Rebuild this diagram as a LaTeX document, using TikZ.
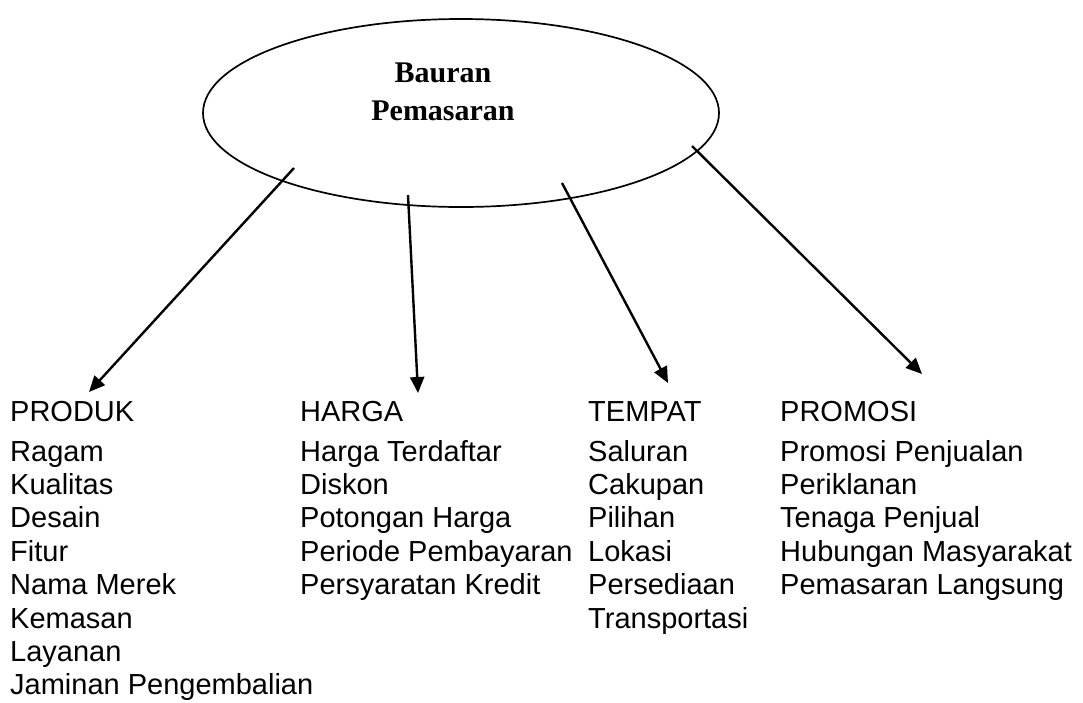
\documentclass[tikz,border=0pt]{standalone}
\usepackage{fontspec}
\setmainfont{Liberation Sans}
\newfontfamily\judulfont{Liberation Serif}
\usetikzlibrary{arrows.meta,shapes.geometric}

\begin{document}
\begin{tikzpicture}[x=1pt,y=-1pt,>={Triangle[length=16pt,width=14pt]},
  kepala/.style={anchor=base west,inner sep=0pt,font=\fontsize{29}{33}\selectfont},
  isi/.style={kepala},
  panah/.style={->,line width=2.4pt}]
\useasboundingbox (0,0) rectangle (1083,702);

\node[draw,ellipse,line width=1.7pt,minimum width=516pt,minimum height=188pt,inner sep=0pt] (bauran) at (461,113) {};
\node[font=\judulfont\bfseries\fontsize{30}{38}\selectfont,align=center] (judul) at (443,92) {Bauran\\Pemasaran};

\foreach \judul/\x [count=\i] in {PRODUK/10,HARGA/300,TEMPAT/588,PROMOSI/780}
  \node[kepala] (k\i) at (\x,421) {\judul};

\foreach \teks [count=\j from 0] in {Ragam,Kualitas,Desain,Fitur,Nama Merek,Kemasan,Layanan,Jaminan Pengembalian}
  \node[isi] (produk\j) at (10,{461+33.4*\j}) {\teks};
\foreach \teks [count=\j from 0] in {Harga Terdaftar,Diskon,Potongan Harga,Periode Pembayaran,Persyaratan Kredit}
  \node[isi] (harga\j) at (300,{461+33.4*\j}) {\teks};
\foreach \teks [count=\j from 0] in {Saluran,Cakupan,Pilihan,Lokasi,Persediaan,Transportasi}
  \node[isi] (tempat\j) at (588,{461+33.4*\j}) {\teks};
\foreach \teks [count=\j from 0] in {Promosi Penjualan,Periklanan,Tenaga Penjual,Hubungan Masyarakat,Pemasaran Langsung}
  \node[isi] (promosi\j) at (780,{461+33.4*\j}) {\teks};

% pangkal dan ujung panah
\coordinate (a1) at (294,168);
\coordinate (a2) at (408,195);
\coordinate (a3) at (562,183);
\coordinate (a4) at (692,146);
\coordinate (t1) at (89,392);
\coordinate (t2) at (418,393);
\coordinate (t3) at (668,383);
\coordinate (t4) at (922,374);

\foreach \i in {1,...,4}
  \draw[panah] (a\i) -- (t\i);

\end{tikzpicture}
\end{document}
